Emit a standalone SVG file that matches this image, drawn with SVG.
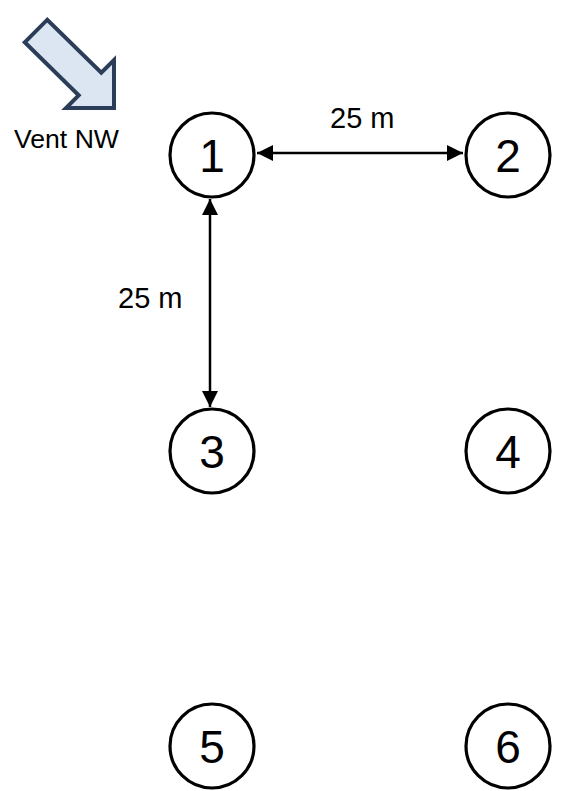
<svg xmlns="http://www.w3.org/2000/svg" width="567" height="791" viewBox="0 0 567 791">
<style>
.node circle{fill:#fff;stroke:#000;stroke-width:3.2}
.node text{font-family:"Liberation Sans",Arial,sans-serif;font-size:46px;text-anchor:middle;fill:#000}
.lbl{font-family:"Liberation Sans",Arial,sans-serif;font-size:29px;fill:#000}
.conn line{stroke:#000;stroke-width:2.5;marker-start:url(#ah);marker-end:url(#ah)}
</style>
<defs>
<marker id="ah" viewBox="0 0 10 10" refX="10" refY="5" markerWidth="6.5" markerHeight="6.5" orient="auto-start-reverse" markerUnits="strokeWidth">
<path d="M0,0 L10,5 L0,10 z" fill="#000"/>
</marker>
</defs>
<rect width="567" height="791" fill="#fff"/>
<g id="wind">
<polygon points="24.7,42.3 47.3,19.7 101.3,72.7 114,60 114,108 66,108 78.7,95.3" fill="#dce6f2" stroke="#2b3d58" stroke-width="4" stroke-linejoin="miter"/>
<text x="14" y="148" font-family="Liberation Sans,Arial,sans-serif" font-size="25" textLength="105" lengthAdjust="spacingAndGlyphs">Vent NW</text>
</g>
<g id="connectors" class="conn">
<line x1="257" y1="153" x2="463" y2="153"/>
<line x1="210" y1="199" x2="210" y2="407"/>
</g>
<g id="labels">
<text class="lbl" x="330" y="128">25 m</text>
<text class="lbl" x="118" y="308">25 m</text>
</g>
<g id="n1" class="node"><circle cx="212" cy="155" r="42"/><text x="212" y="172">1</text></g>
<g id="n2" class="node"><circle cx="508" cy="155" r="42"/><text x="508" y="172">2</text></g>
<g id="n3" class="node"><circle cx="212" cy="451" r="42"/><text x="212" y="468">3</text></g>
<g id="n4" class="node"><circle cx="508" cy="451" r="42"/><text x="508" y="468">4</text></g>
<g id="n5" class="node"><circle cx="212" cy="746" r="42"/><text x="212" y="763">5</text></g>
<g id="n6" class="node"><circle cx="508" cy="746" r="42"/><text x="508" y="763">6</text></g>
</svg>
